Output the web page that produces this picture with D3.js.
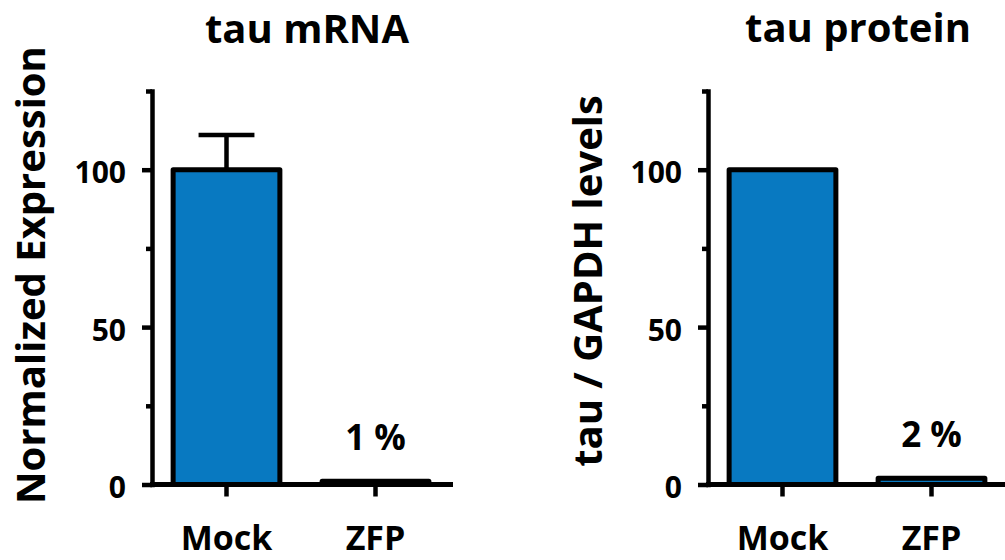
<!DOCTYPE html>
<html>
<head>
<meta charset="utf-8">
<script src="https://cdn.jsdelivr.net/npm/d3@7"></script>
<style>
  html, body { margin: 0; padding: 0; background: #fff; }
  svg { display: block; font-family: "Open Sans", "Liberation Sans", sans-serif; }
</style>
</head>
<body>
<svg id="chart" width="1005" height="560"></svg>
<script>
// Knockdown of tau: transcript and protein levels, Mock vs ZFP
const categories = ["Mock", "ZFP"];
const mrnaValues = [100, 1];
const mrnaErrors = [11, null];
const proteinValues = [100, 2];
const proteinErrors = [null, null];
const majorTicks = [0, 50, 100];
const minorTicks = [25, 75, 125];
const panelTitles = ["tau mRNA", "tau protein"];
const axisTitles = ["Normalized Expression", "tau / GAPDH levels"];

const barFill = "#0879c1";
const ink = "#000";
const lineW = 4.5;

const svg = d3.select("#chart");

const panels = [
  { values: mrnaValues, errors: mrnaErrors, title: panelTitles[0], yTitle: axisTitles[0],
    axisX: 152, xEnd: 453, titleX: 307, titleY: 43, yTitleX: 45, yTitleY: 275 },
  { values: proteinValues, errors: proteinErrors, title: panelTitles[1], yTitle: axisTitles[1],
    axisX: 708, xEnd: 1010, titleX: 858, titleY: 42, yTitleX: 602, yTitleY: 281 }
];

function drawPanel(p) {
  const g = svg.append("g");

  const x = d3.scaleBand()
    .domain(categories)
    .range([p.axisX, p.axisX + 298])
    .paddingInner(0.25)
    .paddingOuter(0.125);

  const y = d3.scaleLinear().domain([0, 125]).range([484.5, 91]);

  const rows = categories.map((c, i) => ({ cat: c, value: p.values[i], err: p.errors[i] }));

  // bars
  g.selectAll("rect.bar")
    .data(rows)
    .join("rect")
    .attr("class", "bar")
    .attr("x", d => x(d.cat) + 2.5)
    .attr("width", x.bandwidth() - 5)
    .attr("y", d => y(d.value))
    .attr("height", d => y(0) - y(d.value))
    .attr("fill", barFill)
    .attr("stroke", ink)
    .attr("stroke-width", 5)
    .attr("stroke-linejoin", "round");

  // upper error whiskers
  const withErr = rows.filter(d => d.err != null);
  const cx = d => x(d.cat) + x.bandwidth() / 2;
  const capHalf = x.bandwidth() / 4;
  g.selectAll("line.err-stem")
    .data(withErr)
    .join("line")
    .attr("x1", cx).attr("x2", cx)
    .attr("y1", d => y(d.value)).attr("y2", d => y(d.value + d.err))
    .attr("stroke", ink).attr("stroke-width", lineW);
  g.selectAll("line.err-cap")
    .data(withErr)
    .join("line")
    .attr("x1", d => cx(d) - capHalf).attr("x2", d => cx(d) + capHalf)
    .attr("y1", d => y(d.value + d.err)).attr("y2", d => y(d.value + d.err))
    .attr("stroke", ink).attr("stroke-width", lineW);

  // percentage labels over the knocked-down bars
  g.selectAll("text.pct")
    .data(rows.filter(d => d.value < 50))
    .join("text")
    .attr("class", "pct")
    .attr("x", cx)
    .attr("y", d => y(d.value) - 31)
    .attr("text-anchor", "middle")
    .attr("font-size", 35)
    .attr("font-weight", 700)
    .attr("fill", ink)
    .text(d => `${d.value} %`);

  // x axis baseline
  g.append("line")
    .attr("x1", p.axisX - 2).attr("x2", p.xEnd)
    .attr("y1", y(0)).attr("y2", y(0))
    .attr("stroke", ink).attr("stroke-width", 5);

  // x ticks and category labels
  const xAxis = g.append("g")
    .attr("transform", `translate(0,${y(0)})`)
    .call(d3.axisBottom(x).tickSize(12).tickSizeOuter(0))
    .attr("font-family", null)
    .attr("font-size", null);
  xAxis.select(".domain").remove();
  xAxis.selectAll(".tick line").attr("stroke", ink).attr("stroke-width", lineW);
  xAxis.selectAll(".tick text")
    .attr("y", 65.5).attr("dy", 0)
    .attr("font-size", 34).attr("font-weight", 700)
    .attr("fill", ink);

  // y axis: major ticks with labels
  const yAxis = g.append("g")
    .attr("transform", `translate(${p.axisX},0)`)
    .call(d3.axisLeft(y).tickValues(majorTicks).tickSize(10).tickPadding(16).tickSizeOuter(0))
    .attr("font-family", null)
    .attr("font-size", null);
  yAxis.select(".domain").attr("stroke", ink).attr("stroke-width", lineW).attr("stroke-linecap", "square");
  yAxis.selectAll(".tick line").attr("stroke", ink).attr("stroke-width", lineW);
  yAxis.selectAll(".tick text")
    .attr("dy", "0.44em")
    .attr("font-size", 30).attr("font-weight", 700)
    .attr("fill", ink);

  // y axis: minor ticks
  const yMinor = g.append("g")
    .attr("transform", `translate(${p.axisX},0)`)
    .call(d3.axisLeft(y).tickValues(minorTicks).tickSize(6).tickFormat(""));
  yMinor.select(".domain").remove();
  yMinor.selectAll(".tick line").attr("stroke", ink).attr("stroke-width", lineW);

  // panel title
  g.append("text")
    .attr("x", p.titleX).attr("y", p.titleY)
    .attr("text-anchor", "middle")
    .attr("font-size", 40).attr("font-weight", 700)
    .attr("fill", ink)
    .text(p.title);

  // y axis title
  g.append("text")
    .attr("transform", `translate(${p.yTitleX},${p.yTitleY}) rotate(-90)`)
    .attr("text-anchor", "middle")
    .attr("font-size", 40).attr("font-weight", 700)
    .attr("fill", ink)
    .text(p.yTitle);
}

panels.forEach(drawPanel);
</script>
</body>
</html>
